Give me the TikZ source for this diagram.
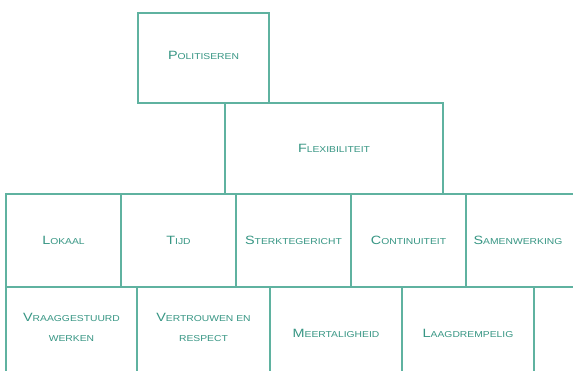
\documentclass[tikz,border=0pt]{standalone}
\usepackage{fontspec}
\newfontfamily\cellfont[FakeStretch=1.2]{Liberation Sans}
\definecolor{tealtext}{RGB}{55,150,132}
\definecolor{tealline}{RGB}{95,178,160}
\newcommand{\fsc}[2]{{\fontsize{12}{13}\selectfont #1}{\fontsize{8.6}{10}\selectfont #2}}
\newcommand{\ssc}[1]{{\fontsize{8.6}{10}\selectfont #1}}
\tikzset{
  cell/.style={draw=tealline, line width=1.3pt, anchor=north west, inner sep=0pt, outer sep=0pt,
    font=\cellfont, text=tealtext, align=center},
}
\begin{document}
\begin{tikzpicture}[x=1pt,y=-1pt]
\useasboundingbox (0,0) rectangle (573,370);
\clip (0,0) rectangle (573,370);
\fill[white] (0,0) rectangle (573,370);
% top boxes
\node[cell, minimum width=131pt, minimum height=90pt] (pol) at (138,13) {\raisebox{5pt}{\fsc{P}{OLITISEREN}}};
\node[cell, minimum width=218pt, minimum height=91pt] (flex) at (225,103) {\fsc{F}{LEXIBILITEIT}};
% row 1
\node[cell, minimum width=115pt, minimum height=93pt] (lok) at (6,194) {\fsc{L}{OKAAL}};
\node[cell, minimum width=115pt, minimum height=93pt] (tijd) at (121,194) {\fsc{T}{IJD}};
\node[cell, minimum width=115pt, minimum height=93pt] (sterk) at (236,194) {\fsc{S}{TERKTEGERICHT}};
\node[cell, minimum width=115pt, minimum height=93pt] (cont) at (351,194) {\fsc{C}{ONTINUITEIT}};
\node[cell, minimum width=120pt, minimum height=93pt] (samen) at (466,194) {\hspace*{-16pt}\fsc{S}{AMENWERKING}};
% row 2
\node[cell, minimum width=131pt, minimum height=100pt] (vraag) at (6,287) {\fsc{V}{RAAGGESTUURD}\\[8pt]\ssc{WERKEN}\\[8pt]};
\node[cell, minimum width=133pt, minimum height=100pt] (vert) at (137,287) {\fsc{V}{ERTROUWEN EN}\\[8pt]\ssc{RESPECT}\\[8pt]};
\node[cell, minimum width=132pt, minimum height=100pt] (meer) at (270,287) {\raisebox{8pt}{\fsc{M}{EERTALIGHEID}}};
\node[cell, minimum width=132pt, minimum height=100pt] (laag) at (402,287) {\raisebox{8pt}{\fsc{L}{AAGDREMPELIG}}};
\node[cell, minimum width=60pt, minimum height=100pt] (leeg) at (534,287) {};
\end{tikzpicture}
\end{document}
